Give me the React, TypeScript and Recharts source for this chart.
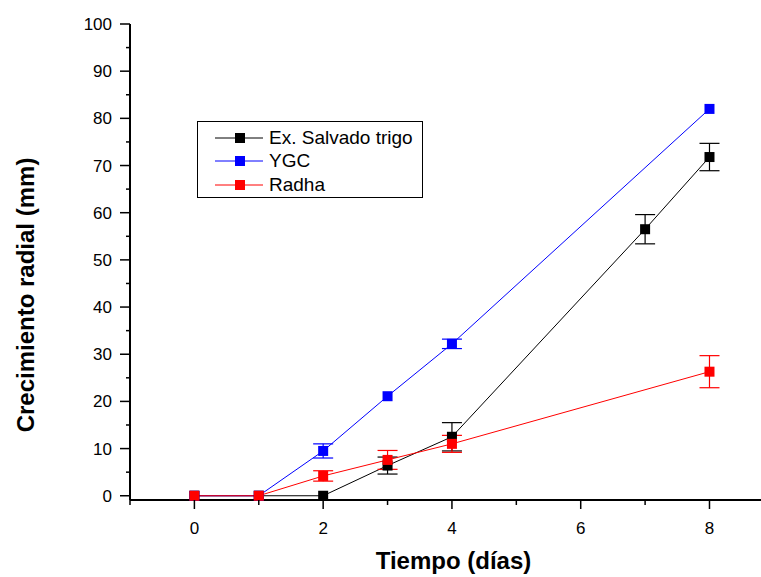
import React from 'react';
import { ComposedChart, Line, XAxis, YAxis, ErrorBar, Legend } from 'recharts';

const FONT = '"Liberation Sans", Arial, sans-serif';

// Ex. Salvado trigo
const salvadoDays = [0, 1, 2, 3, 4, 7, 8];
const salvadoValues = [0, 0, 0, 6.4, 12.5, 56.5, 71.8];
const salvadoErrors = [0, 0, 0, 1.8, 3, 3.1, 2.9];

// YGC
const ygcDays = [0, 1, 2, 3, 4, 8];
const ygcValues = [0, 0, 9.5, 21.1, 32.2, 82];
const ygcErrors = [0, 0, 1.5, 0, 1, 0];

// Radha
const radhaDays = [0, 1, 2, 3, 4, 8];
const radhaValues = [0, 0, 4.2, 7.6, 11, 26.3];
const radhaErrors = [0, 0, 1.1, 2, 1.8, 3.4];

const xTicks = [-1, 0, 1, 2, 3, 4, 5, 6, 7, 8];
const yTicks = [0, 5, 10, 15, 20, 25, 30, 35, 40, 45, 50, 55, 60, 65, 70, 75, 80, 85, 90, 95, 100];

const series = [
  { name: 'Ex. Salvado trigo', color: '#000000', days: salvadoDays, values: salvadoValues, errors: salvadoErrors },
  { name: 'YGC', color: '#0000ff', days: ygcDays, values: ygcValues, errors: ygcErrors },
  { name: 'Radha', color: '#ff0000', days: radhaDays, values: radhaValues, errors: radhaErrors },
];

const toRows = (days: number[], values: number[], errors: number[]) =>
  days.map((d, i) => ({ day: d, value: values[i], err: errors[i] }));

function XTick(props: any) {
  const { x, y, payload } = props;
  const v = payload.value as number;
  const major = v % 2 === 0;
  return (
    <g>
      <line x1={x} x2={x} y1={y} y2={y + (major ? 9 : 5)} stroke="#000" strokeWidth={1.5} />
      {major && (
        <text x={x} y={y + 34} textAnchor="middle" fontSize={17} fontFamily={FONT} fill="#000">
          {v}
        </text>
      )}
    </g>
  );
}

function YTick(props: any) {
  const { x, y, payload } = props;
  const v = payload.value as number;
  const major = v % 10 === 0;
  return (
    <g>
      <line x1={x} x2={x - (major ? 10 : 4)} y1={y} y2={y} stroke="#000" strokeWidth={1.5} />
      {major && (
        <text x={x - 18} y={y + 6} textAnchor="end" fontSize={17} fontFamily={FONT} fill="#000">
          {v}
        </text>
      )}
    </g>
  );
}

function SquareDot(color: string) {
  return (props: any) => {
    const { cx, cy, index } = props;
    if (cx == null || cy == null) return <g key={index} />;
    return <rect key={index} x={cx - 5} y={cy - 5} width={10} height={10} fill={color} />;
  };
}

function renderLegend() {
  return (
    <div
      style={{
        width: 224,
        height: 71,
        border: '1px solid #000',
        background: '#fff',
        fontFamily: FONT,
        fontSize: 19,
        color: '#000',
        boxSizing: 'content-box',
        paddingTop: 4,
      }}
    >
      {series.map((s) => (
        <div key={s.name} style={{ display: 'flex', alignItems: 'center', height: 23.5 }}>
          <svg width={71} height={12} style={{ display: 'block', flex: 'none' }}>
            <line x1={17} x2={65} y1={6} y2={6} stroke={s.color} strokeWidth={1} />
            <rect x={37} y={1} width={10} height={10} fill={s.color} />
          </svg>
          <span style={{ whiteSpace: 'nowrap' }}>{s.name}</span>
        </div>
      ))}
    </div>
  );
}

export default function App() {
  return (
    <div style={{ position: 'absolute', left: 0, top: 0, background: '#fff' }}>
      <ComposedChart width={761} height={577} margin={{ top: 24, right: 0, bottom: 0, left: 0 }}>
        <XAxis
          xAxisId="bottom"
          type="number"
          dataKey="day"
          domain={[-1, 8.8]}
          allowDataOverflow
          ticks={xTicks}
          interval={0}
          tick={<XTick />}
          tickLine={false}
          tickSize={0}
          tickMargin={0}
          axisLine={{ stroke: '#000', strokeWidth: 2 }}
          height={77}
          label={{
            content: (p: any) => {
              const vb = p.viewBox;
              return (
                <text
                  x={vb.x + vb.width / 2 + 8}
                  y={vb.y + 69}
                  textAnchor="middle"
                  fontSize={24}
                  fontWeight="bold"
                  fontFamily={FONT}
                  fill="#000"
                >
                  Tiempo (días)
                </text>
              );
            },
          }}
        />
        <XAxis
          xAxisId="top"
          orientation="top"
          type="number"
          dataKey="day"
          domain={[-1, 8.8]}
          allowDataOverflow
          tick={false}
          tickLine={false}
          axisLine={{ stroke: '#000', strokeWidth: 2 }}
          height={0}
        />
        <YAxis
          type="number"
          domain={[-0.9, 100]}
          ticks={yTicks}
          interval={0}
          tick={<YTick />}
          tickLine={false}
          tickSize={0}
          tickMargin={0}
          axisLine={{ stroke: '#000', strokeWidth: 2 }}
          width={130}
          label={{
            content: (p: any) => {
              const vb = p.viewBox;
              const cx = vb.x + 25;
              const cy = vb.y + vb.height / 2 + 33;
              return (
                <text
                  x={cx}
                  y={cy}
                  transform={`rotate(-90 ${cx} ${cy})`}
                  textAnchor="middle"
                  dominantBaseline="central"
                  fontSize={24}
                  fontWeight="bold"
                  fontFamily={FONT}
                  fill="#000"
                >
                  Crecimiento radial (mm)
                </text>
              );
            },
          }}
        />
        {series.map((s) => (
          <Line
            key={s.name}
            xAxisId="bottom"
            name={s.name}
            data={toRows(s.days, s.values, s.errors)}
            dataKey="value"
            type="linear"
            stroke={s.color}
            strokeWidth={1}
            dot={SquareDot(s.color)}
            activeDot={false}
            isAnimationActive={false}
          >
            <ErrorBar dataKey="err" width={10} stroke={s.color} strokeWidth={1.2} direction="y" isAnimationActive={false} />
          </Line>
        ))}
        <Legend
          layout="vertical"
          align="center"
          verticalAlign="middle"
          content={renderLegend}
          wrapperStyle={{ position: 'absolute', left: 197, top: 121, width: 226, height: 77 }}
        />
      </ComposedChart>
    </div>
  );
}
